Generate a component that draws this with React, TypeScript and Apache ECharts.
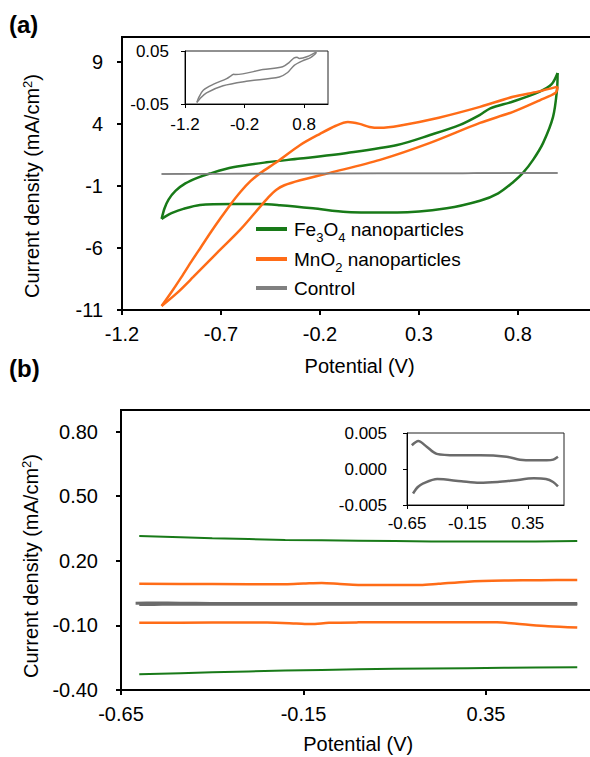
import React, { useEffect, useRef } from 'react';
import * as echarts from 'echarts';

const FONT = '"Liberation Sans", Arial, sans-serif';
const GREEN = '#187a18';
const ORANGE = '#ff6c17';
const GRAY_A = '#808080';
const GRAY_B = '#6b6b6b';

const NAME_FE = 'Fe3O4 nanoparticles';
const NAME_MN = 'MnO2 nanoparticles';
const NAME_CT = 'Control';

// ---------- Panel (a): CV loops, [potential (V), current density (mA/cm2)]
const feForwardA = [
  [-1.0, -3.66], [-0.985, -2.8], [-0.965, -2.1], [-0.93, -1.4], [-0.88, -0.8], [-0.82, -0.35],
  [-0.756, 0.0], [-0.64, 0.5], [-0.47, 0.9], [-0.3, 1.2], [-0.064, 1.66], [0.19, 2.3],
  [0.356, 3.1], [0.507, 3.92], [0.608, 4.73], [0.66, 5.25], [0.775, 5.8], [0.91, 6.6],
  [0.97, 7.2], [1.0, 8.1],
];
const feReverseA = [
  [1.0, 8.1], [0.997, 6.74], [0.977, 4.56], [0.927, 2.47], [0.876, 1.1], [0.825, 0.05],
  [0.775, -0.7], [0.7, -1.6], [0.608, -2.2], [0.44, -2.8], [0.19, -3.15], [-0.064, -3.1],
  [-0.235, -2.8], [-0.402, -2.55], [-0.503, -2.45], [-0.64, -2.45], [-0.806, -2.53],
  [-0.89, -2.85], [-0.95, -3.2], [-0.98, -3.45], [-1.0, -3.66],
];
const mnForwardA = [
  [-1.0, -10.68], [-0.95, -9.55], [-0.9, -8.35], [-0.85, -7.1], [-0.8, -5.9], [-0.75, -4.7],
  [-0.7, -3.55], [-0.65, -2.45], [-0.6, -1.45], [-0.55, -0.6], [-0.5, 0.05], [-0.417, 0.94],
  [-0.3, 2.3], [-0.2, 3.2], [-0.12, 3.85], [-0.059, 4.15], [0.0, 4.0], [0.05, 3.75],
  [0.103, 3.68], [0.2, 3.85], [0.4, 4.5], [0.608, 5.37], [0.775, 6.18], [0.9, 6.6], [1.0, 7.0],
];
const mnReverseA = [
  [1.0, 7.0], [0.99, 6.5], [0.91, 5.9], [0.775, 4.97], [0.608, 4.08], [0.356, 2.47],
  [0.103, 1.1], [-0.15, 0.05], [-0.3, -0.55], [-0.38, -0.95], [-0.42, -1.3], [-0.46, -1.9],
  [-0.503, -2.69], [-0.604, -4.55], [-0.72, -6.4], [-0.84, -8.34], [-0.92, -9.6], [-1.0, -10.68],
];
const ctForwardA = [
  [-1.0, -0.047], [-0.97, -0.038], [-0.894, -0.024], [-0.728, -0.013], [-0.5, -0.002],
  [-0.422, 0.0037], [-0.38, 0.006], [-0.35, 0.0055], [0.106, 0.0149], [0.439, 0.0204],
  [0.55, 0.0287], [0.633, 0.037], [0.68, 0.038], [0.717, 0.036], [0.856, 0.0397], [1.0, 0.048],
];
const ctReverseA = [
  [1.0, 0.048], [0.994, 0.0452], [0.9, 0.037], [0.772, 0.0315], [0.633, 0.023], [0.522, 0.0094],
  [0.383, 0.0011], [-0.172, -0.0072], [-0.561, -0.0155], [-0.839, -0.029], [-0.95, -0.04],
  [-1.0, -0.047],
];

// ---------- Panel (b)
const feUpperB = [[-0.6, 0.315], [-0.4, 0.305], [-0.2, 0.297], [0.0, 0.293], [0.2, 0.29], [0.4, 0.289], [0.6, 0.292]];
const feLowerB = [[-0.6, -0.327], [-0.4, -0.318], [-0.2, -0.31], [0.0, -0.304], [0.2, -0.3], [0.4, -0.297], [0.6, -0.294]];
const mnUpperB = [
  [-0.6, 0.093], [-0.4, 0.092], [-0.2, 0.091], [-0.15, 0.094], [-0.1, 0.097], [-0.05, 0.092],
  [0.0, 0.088], [0.17, 0.087], [0.22, 0.093], [0.3, 0.103], [0.4, 0.108], [0.5, 0.11], [0.6, 0.111],
];
const mnLowerB = [
  [-0.6, -0.088], [-0.4, -0.087], [-0.25, -0.087], [-0.17, -0.091], [-0.13, -0.094], [-0.08, -0.088],
  [0.0, -0.086], [0.2, -0.085], [0.38, -0.086], [0.45, -0.095], [0.52, -0.104], [0.6, -0.11],
];
const ctUpperB = [
  [-0.61, 0.0033], [-0.556, 0.0039], [-0.487, 0.0031], [-0.404, 0.0021], [-0.239, 0.0019],
  [-0.046, 0.0019], [0.175, 0.0017], [0.285, 0.0013], [0.396, 0.0012], [0.507, 0.0012],
  [0.561, 0.0013], [0.6, 0.0017],
];
const ctLowerB = [
  [-0.6, -0.0034], [-0.56, -0.0025], [-0.515, -0.002], [-0.4, -0.0014], [-0.2, -0.0017],
  [-0.05, -0.0019], [0.1, -0.0018], [0.23, -0.0016], [0.4, -0.0013], [0.5, -0.0014],
  [0.56, -0.0018], [0.6, -0.0024],
];

// ---------- tick labels
const xTicksA = [-1.2, -0.7, -0.2, 0.3, 0.8];
const yTicksA = [-11, -6, -1, 4, 9];
const xTicksInsetA = [-1.2, -0.2, 0.8];
const yTicksInsetA = [-0.05, 0.05];
const xTicksB = [-0.65, -0.15, 0.35];
const yTicksB = [-0.4, -0.1, 0.2, 0.5, 0.8];
const xTicksInsetB = [-0.65, -0.15, 0.35];
const yTicksInsetB = [-0.005, 0, 0.005];

const Y_NAME = 'Current density (mA/cm{sup|2})';

function axisBase(opts: any) {
  const { gridIndex, min, max, interval, ticks, decimals, inset, margin } = opts;
  return {
    gridIndex,
    type: 'value',
    min,
    max,
    interval,
    axisLine: { show: true, onZero: false, lineStyle: { color: '#000', width: inset ? 1 : 2 } },
    axisTick: {
      show: true,
      inside: false,
      length: inset ? 4 : 5,
      lineStyle: { color: '#000', width: inset ? 1 : 2 },
      customValues: ticks,
    },
    axisLabel: {
      customValues: ticks,
      formatter: (v: number) => v.toFixed(decimals),
      margin,
      fontSize: inset ? 17 : 20,
      fontFamily: FONT,
      color: '#000',
    },
    splitLine: { show: false },
  };
}

function line(name: string, data: number[][], color: string, width: number, axis: number) {
  return {
    type: 'line',
    name,
    data,
    xAxisIndex: axis,
    yAxisIndex: axis,
    smooth: 0.3,
    symbol: 'none',
    showSymbol: false,
    silent: true,
    lineStyle: { color, width },
    itemStyle: { color },
  };
}

const legendRich = {
  t: { fontSize: 19, fontFamily: FONT, color: '#000', lineHeight: 30 },
  s: { fontSize: 13, fontFamily: FONT, color: '#000', lineHeight: 12, verticalAlign: 'bottom' },
};
function legendFormatter(name: string) {
  if (name === NAME_FE) return '{t|Fe}{s|3}{t|O}{s|4}{t| nanoparticles}';
  if (name === NAME_MN) return '{t|MnO}{s|2}{t| nanoparticles}';
  return '{t|' + name + '}';
}
function legendAt(name: string, centerY: number) {
  return {
    data: [name],
    left: 256,
    top: centerY - 15,
    padding: 0,
    orient: 'vertical',
    icon: 'rect',
    itemWidth: 31,
    itemHeight: 4,
    selectedMode: false,
    formatter: legendFormatter,
    textStyle: { fontSize: 19, fontFamily: FONT, color: '#000', lineHeight: 30, padding: [0, 0, 0, 2], rich: legendRich },
  };
}

function yNameStyle(shift: number) {
  return {
    fontSize: 20,
    fontFamily: FONT,
    color: '#000',
    lineHeight: 22,
    padding: [0, shift, 0, 0],
    rich: { sup: { fontSize: 13, fontFamily: FONT, color: '#000', lineHeight: 12, verticalAlign: 'top' } },
  };
}
const xNameStyle = { fontSize: 20, fontFamily: FONT, color: '#000', lineHeight: 22 };

const gridBase = { show: true, backgroundColor: 'transparent', containLabel: false, outerBoundsMode: 'none' };

export default function App() {
  const ref = useRef<HTMLDivElement>(null);
  useEffect(() => {
    if (!ref.current) return;
    const chart = echarts.init(ref.current, undefined, { renderer: 'svg' });
    const option: any = {
      animation: false,
      backgroundColor: '#fff',
      grid: [
        { ...gridBase, left: 122, top: 37, width: 475.2, height: 273, borderColor: '#000', borderWidth: 2 },
        { ...gridBase, left: 185, top: 51, width: 143, height: 53, borderColor: '#222', borderWidth: 1 },
        { ...gridBase, left: 121, top: 410, width: 474.5, height: 280, borderColor: '#000', borderWidth: 2 },
        { ...gridBase, left: 407, top: 433, width: 157, height: 72, borderColor: '#222', borderWidth: 1 },
      ],
      xAxis: [
        { ...axisBase({ gridIndex: 0, min: -1.2, max: 1.2, interval: 0.5, ticks: xTicksA, decimals: 1, margin: 14 }),
          name: 'Potential (V)', nameLocation: 'middle', nameGap: 45, nameTextStyle: xNameStyle },
        axisBase({ gridIndex: 1, min: -1.2, max: 1.2, interval: 1, ticks: xTicksInsetA, decimals: 1, inset: true, margin: 12 }),
        { ...axisBase({ gridIndex: 2, min: -0.65, max: 0.65, interval: 0.5, ticks: xTicksB, decimals: 2, margin: 14 }),
          name: 'Potential (V)', nameLocation: 'middle', nameGap: 43, nameTextStyle: xNameStyle },
        axisBase({ gridIndex: 3, min: -0.65, max: 0.65, interval: 0.5, ticks: xTicksInsetB, decimals: 2, inset: true, margin: 10 }),
      ],
      yAxis: [
        { ...axisBase({ gridIndex: 0, min: -11, max: 11, interval: 5, ticks: yTicksA, decimals: 0, margin: 19 }),
          name: Y_NAME, nameLocation: 'middle', nameGap: 79, nameTextStyle: yNameStyle(25) },
        axisBase({ gridIndex: 1, min: -0.05, max: 0.05, interval: 0.1, ticks: yTicksInsetA, decimals: 2, inset: true, margin: 16 }),
        { ...axisBase({ gridIndex: 2, min: -0.4, max: 0.9, interval: 0.3, ticks: yTicksB, decimals: 2, margin: 23 }),
          name: Y_NAME, nameLocation: 'middle', nameGap: 79, nameTextStyle: yNameStyle(32) },
        axisBase({ gridIndex: 3, min: -0.005, max: 0.005, interval: 0.005, ticks: yTicksInsetB, decimals: 3, inset: true, margin: 20 }),
      ],
      legend: [legendAt(NAME_FE, 229), legendAt(NAME_MN, 259), legendAt(NAME_CT, 288)],
      graphic: [
        { type: 'text', left: 9, top: 12, style: { text: '(a)', fontSize: 24, fontWeight: 'bold', fontFamily: FONT, fill: '#000' } },
        { type: 'text', left: 9, top: 356, style: { text: '(b)', fontSize: 24, fontWeight: 'bold', fontFamily: FONT, fill: '#000' } },
      ],
      series: [
        line(NAME_FE, feForwardA, GREEN, 2.5, 0),
        line(NAME_FE, feReverseA, GREEN, 2.5, 0),
        line(NAME_MN, mnForwardA, ORANGE, 2.5, 0),
        line(NAME_MN, mnReverseA, ORANGE, 2.5, 0),
        line(NAME_CT, ctForwardA, GRAY_A, 1.5, 0),
        line(NAME_CT, ctReverseA, GRAY_A, 1.5, 0),
        line(NAME_CT, ctForwardA, GRAY_A, 1.5, 1),
        line(NAME_CT, ctReverseA, GRAY_A, 1.5, 1),
        line(NAME_FE, feUpperB, GREEN, 2, 2),
        line(NAME_FE, feLowerB, GREEN, 2, 2),
        line(NAME_MN, mnUpperB, ORANGE, 2.5, 2),
        line(NAME_MN, mnLowerB, ORANGE, 2.5, 2),
        line(NAME_CT, ctUpperB, GRAY_B, 3, 2),
        line(NAME_CT, ctLowerB, GRAY_B, 3, 2),
        line(NAME_CT, ctUpperB, GRAY_B, 2.5, 3),
        line(NAME_CT, ctLowerB, GRAY_B, 2.5, 3),
      ],
    };
    chart.setOption(option);
    return () => chart.dispose();
  }, []);
  return (
    <div
      ref={ref}
      style={{ position: 'fixed', left: 0, top: 0, width: 590, height: 757, background: '#fff' }}
    />
  );
}
